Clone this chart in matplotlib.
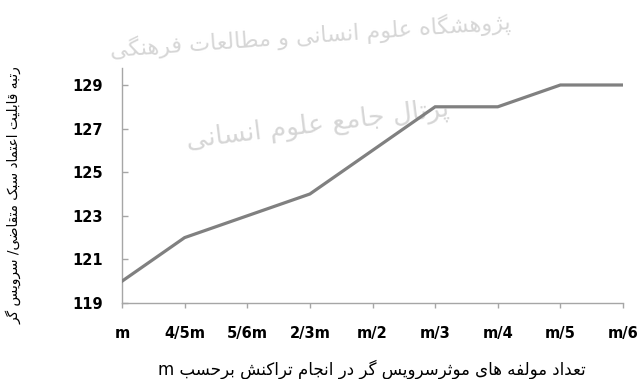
import matplotlib
matplotlib.use("Agg")
import matplotlib.pyplot as plt

# ---- data -------------------------------------------------------------
categories = ["m", "4/5m", "5/6m", "2/3m", "m/2", "m/3", "m/4", "m/5", "m/6"]
reliability_rank = [120, 122, 123, 124, 126, 128, 128, 129, 129]
y_ticks = [119, 121, 123, 125, 127, 129]

x_title = "تعداد مولفه های موثرسرویس گر در انجام تراکنش برحسب m"
y_title = "رتبه قابلیت اعتماد سبک متقاضی/ سرویس گر"
mark_line1 = "پژوهشگاه علوم انسانی و مطالعات فرهنگی"
mark_line2 = "پرتال جامع علوم انسانی"

# ---- minimal Arabic/Persian shaping + RTL ordering ---------------------
# forms: (isolated, final, initial, medial); two-form letters join only to the right
FORMS = {
    "ا": (0xFE8D, 0xFE8E), "آ": (0xFE81, 0xFE82), "د": (0xFEA9, 0xFEAA),
    "ذ": (0xFEAB, 0xFEAC), "ر": (0xFEAD, 0xFEAE), "ز": (0xFEAF, 0xFEB0),
    "ژ": (0xFB8A, 0xFB8B), "و": (0xFEED, 0xFEEE),
    "ب": (0xFE8F, 0xFE90, 0xFE91, 0xFE92), "ت": (0xFE95, 0xFE96, 0xFE97, 0xFE98),
    "ث": (0xFE99, 0xFE9A, 0xFE9B, 0xFE9C), "ج": (0xFE9D, 0xFE9E, 0xFE9F, 0xFEA0),
    "ح": (0xFEA1, 0xFEA2, 0xFEA3, 0xFEA4), "خ": (0xFEA5, 0xFEA6, 0xFEA7, 0xFEA8),
    "س": (0xFEB1, 0xFEB2, 0xFEB3, 0xFEB4), "ش": (0xFEB5, 0xFEB6, 0xFEB7, 0xFEB8),
    "ص": (0xFEB9, 0xFEBA, 0xFEBB, 0xFEBC), "ض": (0xFEBD, 0xFEBE, 0xFEBF, 0xFEC0),
    "ط": (0xFEC1, 0xFEC2, 0xFEC3, 0xFEC4), "ظ": (0xFEC5, 0xFEC6, 0xFEC7, 0xFEC8),
    "ع": (0xFEC9, 0xFECA, 0xFECB, 0xFECC), "غ": (0xFECD, 0xFECE, 0xFECF, 0xFED0),
    "ف": (0xFED1, 0xFED2, 0xFED3, 0xFED4), "ق": (0xFED5, 0xFED6, 0xFED7, 0xFED8),
    "ل": (0xFEDD, 0xFEDE, 0xFEDF, 0xFEE0), "م": (0xFEE1, 0xFEE2, 0xFEE3, 0xFEE4),
    "ن": (0xFEE5, 0xFEE6, 0xFEE7, 0xFEE8), "ه": (0xFEE9, 0xFEEA, 0xFEEB, 0xFEEC),
    "ی": (0xFBFC, 0xFBFD, 0xFBFE, 0xFBFF), "پ": (0xFB56, 0xFB57, 0xFB58, 0xFB59),
    "چ": (0xFB7A, 0xFB7B, 0xFB7C, 0xFB7D), "ک": (0xFB8E, 0xFB8F, 0xFB90, 0xFB91),
    "گ": (0xFB92, 0xFB93, 0xFB94, 0xFB95),
}


def _dual(c):
    return c in FORMS and len(FORMS[c]) == 4


def shape(text):
    out = []
    chars = list(text)
    i = 0
    while i < len(chars):
        c = chars[i]
        prev = chars[i - 1] if i > 0 else ""
        joins_prev = _dual(prev)
        if c == "ل" and i + 1 < len(chars) and chars[i + 1] == "ا":
            out.append(chr(0xFEFC if joins_prev else 0xFEFB))
            i += 2
            continue
        if c not in FORMS:
            out.append(c)
            i += 1
            continue
        nxt = chars[i + 1] if i + 1 < len(chars) else ""
        joins_next = _dual(c) and nxt in FORMS
        f = FORMS[c]
        if joins_prev and joins_next:
            g = f[3]
        elif joins_prev:
            g = f[1]
        elif joins_next:
            g = f[2]
        else:
            g = f[0]
        out.append(chr(g))
        i += 1
    return "".join(out)


def rtl(text):
    shaped = shape(text)
    runs, cur, cur_ltr = [], "", None
    for ch in shaped:
        is_ltr = ch.isascii() and ch.isalnum()
        kind = is_ltr if (is_ltr or ch not in " /") else cur_ltr if cur_ltr is not None else False
        if cur_ltr is None or kind == cur_ltr:
            cur += ch
            cur_ltr = kind
        else:
            runs.append((cur, cur_ltr))
            cur, cur_ltr = ch, kind
    if cur:
        runs.append((cur, cur_ltr))
    pieces = [r if ltr else r[::-1] for r, ltr in runs]
    return "".join(pieces[::-1])


# ---- figure -----------------------------------------------------------
fig = plt.figure(figsize=(6.39, 3.79), dpi=100)
fig.patch.set_facecolor("white")
ax = fig.add_axes([0.1909, 0.2005, 0.7841, 0.6201])
ax.patch.set_visible(False)

# faint background stamp
fig.text(0.486, 0.905, rtl(mark_line1), fontsize=16, color="#d6d6d6",
         family="DejaVu Sans", ha="center", va="center", rotation=4, zorder=-5)
fig.text(0.497, 0.67, rtl(mark_line2), fontsize=19, color="#d6d6d6",
         family="DejaVu Sans", ha="center", va="center", rotation=7, zorder=-5)

x = list(range(len(categories)))
ax.plot(x, reliability_rank, color="#808080", lw=2.3, solid_joinstyle="miter", zorder=3)

ax.set_xlim(0, len(categories) - 1)
ax.set_ylim(119, 129.78)
ax.set_xticks(x)
ax.set_xticklabels(categories)
ax.set_yticks(y_ticks)

for s in ("top", "right"):
    ax.spines[s].set_visible(False)
for s in ("left", "bottom"):
    ax.spines[s].set_color("#a6a6a6")
    ax.spines[s].set_linewidth(1.0)

ax.tick_params(axis="y", direction="in", length=4.5, width=1.0, color="#a6a6a6",
               pad=14, labelsize=10.5)
ax.tick_params(axis="x", direction="out", length=3.8, width=1.0, color="#a6a6a6",
               pad=13, labelsize=10.5)
for lab in ax.get_xticklabels() + ax.get_yticklabels():
    lab.set_fontweight("bold")
    lab.set_color("black")

fig.text(0.582, 0.0, rtl(x_title), fontsize=12, color="black", family="DejaVu Sans",
         ha="center", va="bottom")
fig.text(0.021, 0.484, rtl(y_title), fontsize=9.8, color="black", family="DejaVu Sans",
         ha="center", va="center", rotation=90)

fig.savefig("out.png", dpi=100, facecolor="white")
